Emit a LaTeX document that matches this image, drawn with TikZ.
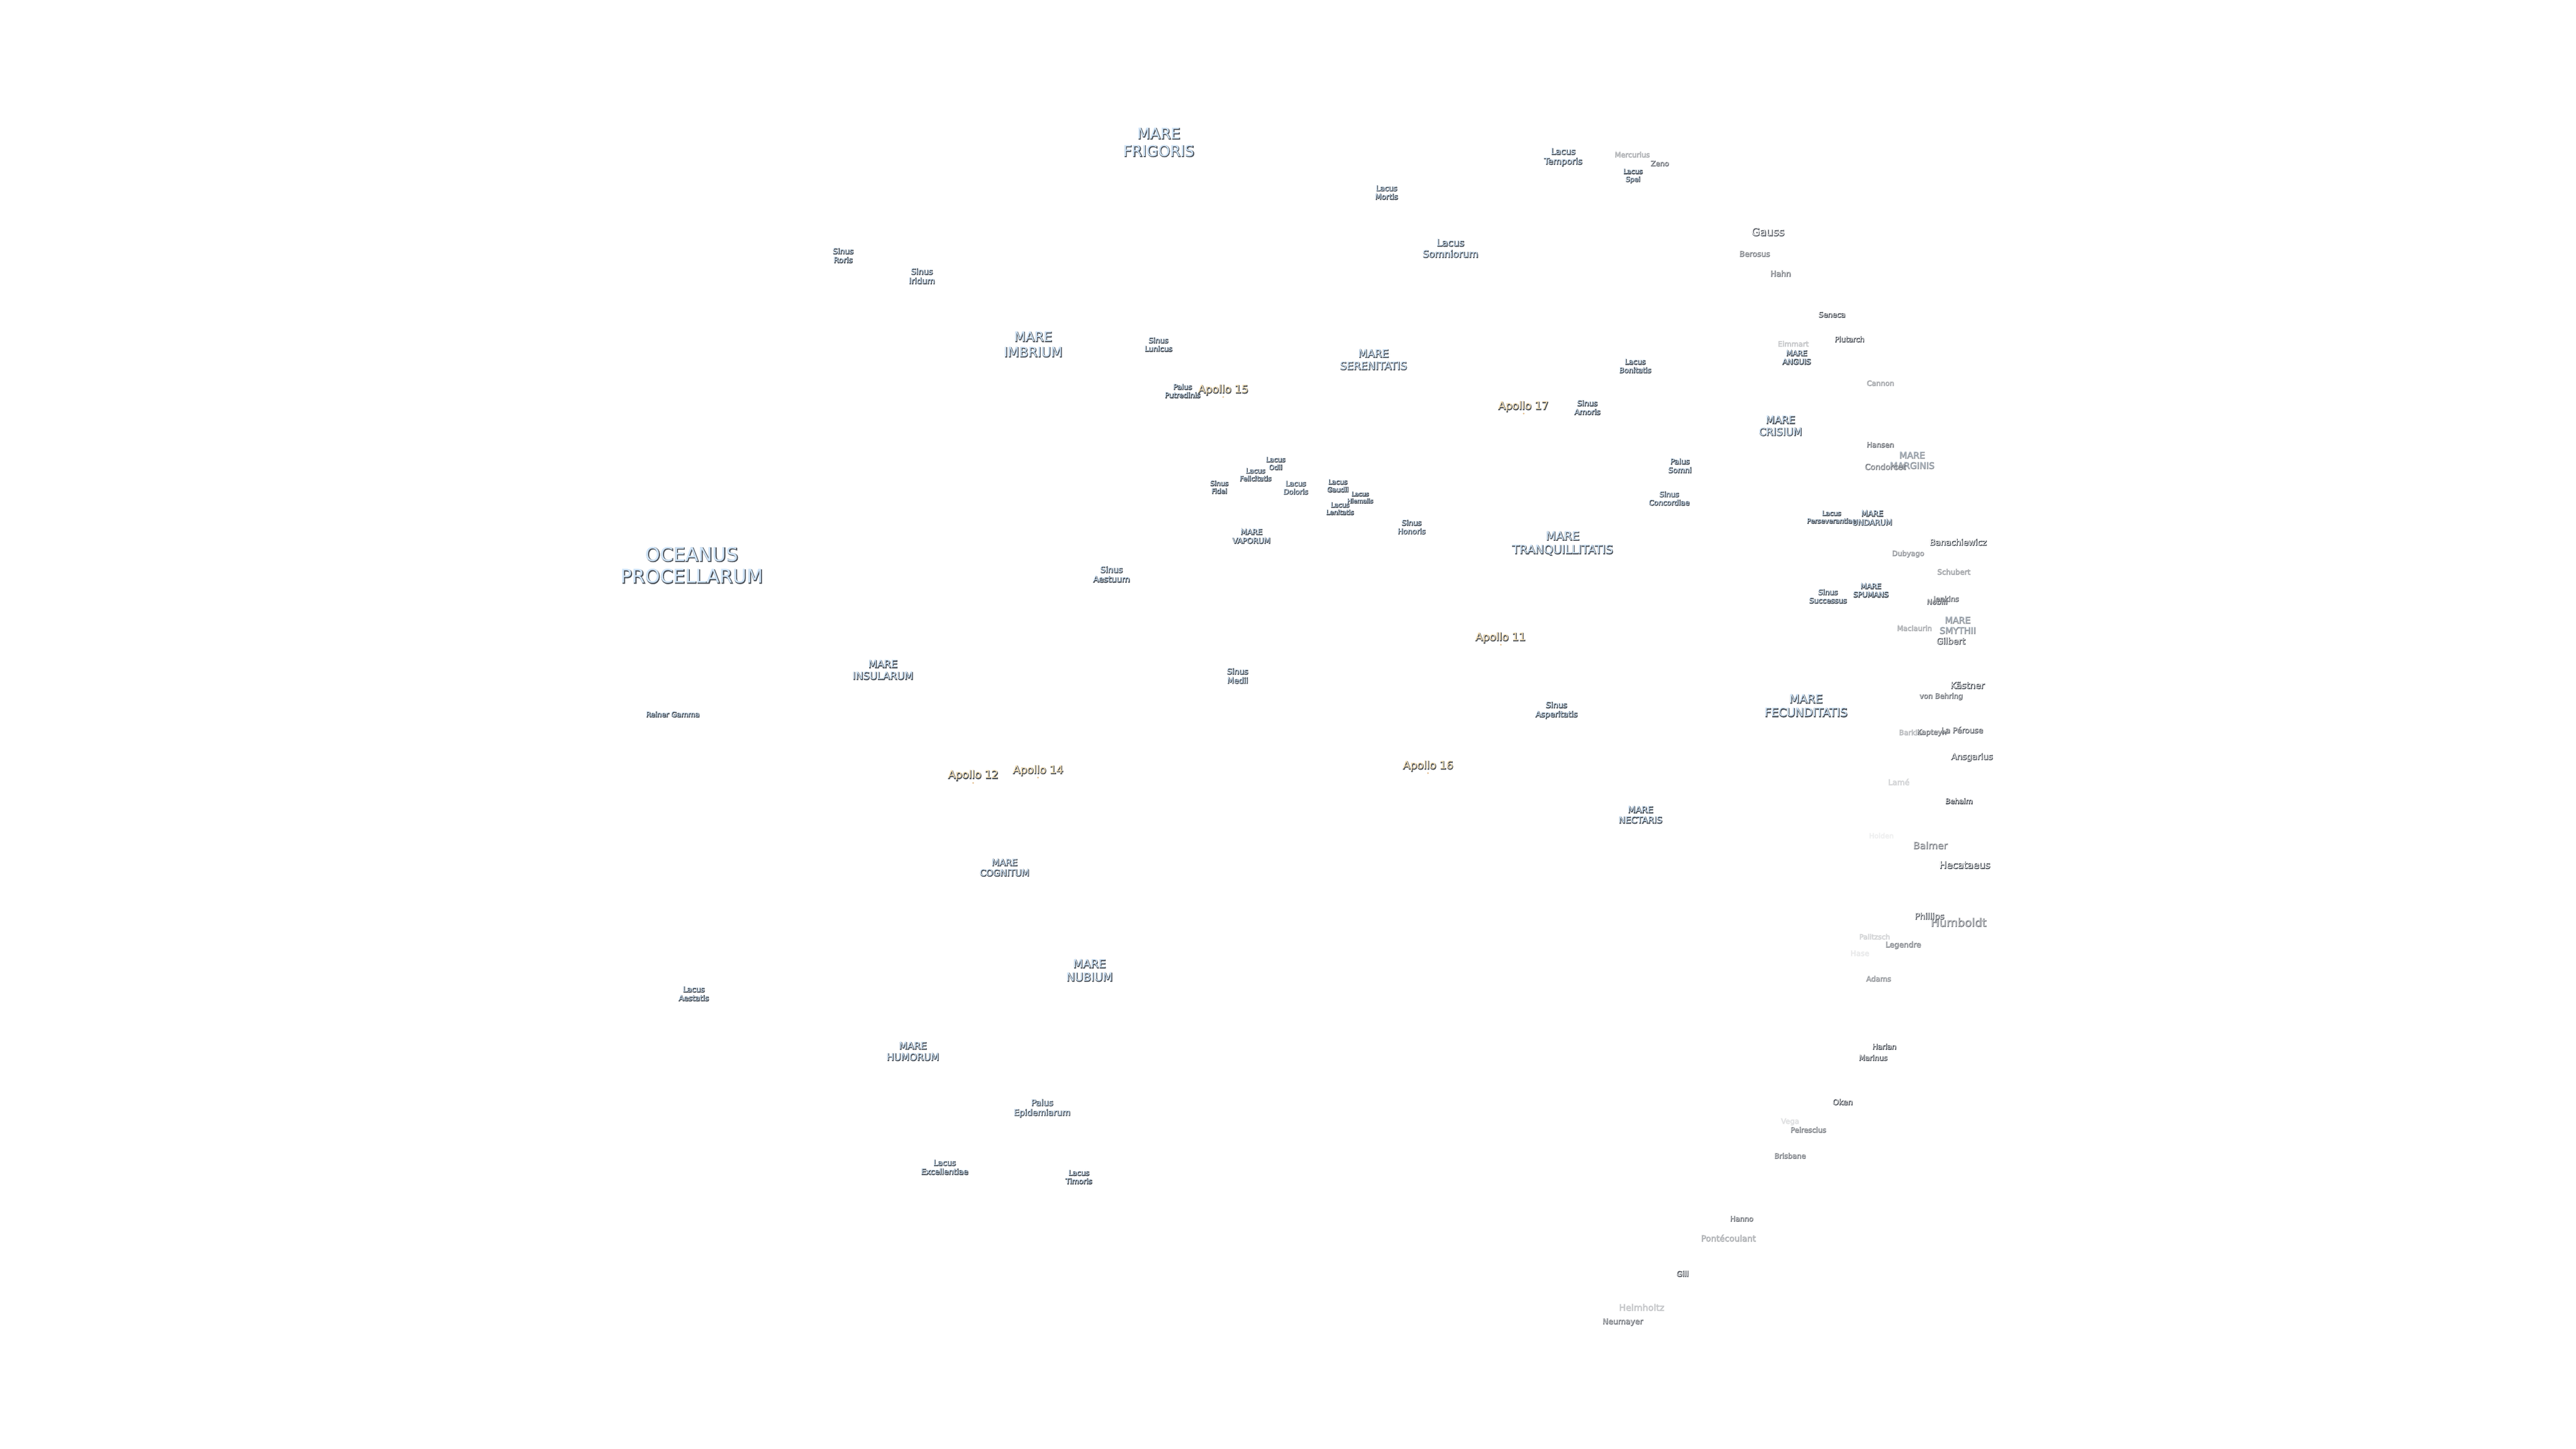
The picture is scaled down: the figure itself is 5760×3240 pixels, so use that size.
\documentclass[tikz,border=0pt]{standalone}
\usepackage{fontspec}
\setmainfont{DejaVu Sans}
\definecolor{maria}{HTML}{CFE4F8}
\definecolor{apollo}{HTML}{FAE3B8}
\definecolor{crater}{HTML}{FFFFFF}
\definecolor{shade}{HTML}{4C5159}
\tikzset{
  lbl/.style={inner sep=0pt,align=center},
  mariatext/.style={text=maria},
  apollotext/.style={text=apollo},
  cratertext/.style={text=crater},
  sitedot/.style={circle,fill=apollo!60!brown,inner sep=0pt,minimum size=1pt},
}
\newcommand\inkon{\special{pdf:code 2 Tr 0.42 w 0.30 0.32 0.35 RG}}
\newcommand\inkoff{\special{pdf:code 0 Tr}}
% name, x, y, size px, style, opacity, text
\newcommand\lab[7]{%
  \pgfmathsetmacro\fs{#4*.25}\pgfmathsetmacro\fb{#4*.25*1.16}%
  \node[lbl,opacity=#6,text=shade,font=\fontsize{\fs}{\fb}\selectfont] (#1s) at ([shift={(.8,1)}]#2,#3) {\inkon #7\inkoff};
  \node[lbl,#5,opacity=#6,font=\fontsize{\fs}{\fb}\selectfont] (#1) at (#2,#3) {#7};
}
\begin{document}
\begin{tikzpicture}[x=.25pt,y=-.25pt]
\useasboundingbox (0,0) rectangle (5760,3240);
% maria
\lab{ocean}{1547}{1264}{42.3}{mariatext}{1}{OCEANUS\\PROCELLARUM}
\lab{frig}{2591}{318}{33.5}{mariatext}{1}{MARE\\FRIGORIS}
\lab{imbr}{2310}{770}{29.6}{mariatext}{1}{MARE\\IMBRIUM}
\lab{sere}{3071}{804}{23.7}{mariatext}{1}{MARE\\SERENITATIS}
\lab{tranq}{3494}{1215}{26.2}{mariatext}{1}{MARE\\TRANQUILLITATIS}
\lab{cris}{3981}{952}{22.9}{mariatext}{1}{MARE\\CRISIUM}
\lab{fecu}{4038}{1578}{26}{mariatext}{1}{MARE\\FECUNDITATIS}
\lab{nect}{3668}{1822}{19.8}{mariatext}{1}{MARE\\NECTARIS}
\lab{vapo}{2798}{1199}{17}{mariatext}{1}{MARE\\VAPORUM}
\lab{insu}{1974}{1498}{22.7}{mariatext}{1}{MARE\\INSULARUM}
\lab{cogn}{2246}{1940}{20.1}{mariatext}{1}{MARE\\COGNITUM}
\lab{nubi}{2436}{2170}{25.5}{mariatext}{1}{MARE\\NUBIUM}
\lab{humo}{2041}{2351}{21.6}{mariatext}{1}{MARE\\HUMORUM}
\lab{angu}{4017}{799}{16.4}{mariatext}{1}{MARE\\ANGUIS}
\lab{spum}{4183}{1320}{16.1}{mariatext}{1}{MARE\\SPUMANS}
\lab{marg}{4275}{1029}{20}{mariatext}{.4}{MARE\\MARGINIS}
\lab{smyt}{4377}{1398}{20}{mariatext}{.4}{MARE\\SMYTHII}
% sinus, lacus, palus
\lab{roris}{1885}{571}{17}{mariatext}{1}{Sinus\\Roris}
\lab{iridum}{2061}{617}{18}{mariatext}{1}{Sinus\\Iridum}
\lab{lunicus}{2590}{770}{16.3}{mariatext}{1}{Sinus\\Lunicus}
\lab{putre}{2644}{874}{16}{mariatext}{1}{Palus\\Putredinis}
\lab{mortis}{3100}{430}{16.5}{mariatext}{1}{Lacus\\Mortis}
\lab{somnio}{3243}{555}{21.5}{mariatext}{1}{Lacus\\Somniorum}
\lab{tempo}{3495}{351}{19}{mariatext}{1}{Lacus\\Temporis}
\lab{spei}{3651}{393}{15}{mariatext}{1}{Lacus\\Spei}
\lab{amoris}{3549}{911}{16.7}{mariatext}{1}{Sinus\\Amoris}
\lab{bonit}{3656}{818}{16.2}{mariatext}{1}{Lacus\\Bonitatis}
\lab{somni}{3756}{1041}{16.6}{mariatext}{1}{Palus\\Somni}
\lab{conco}{3732}{1114}{16.1}{mariatext}{1}{Sinus\\Concordiae}
\lab{odii}{2852}{1036}{15}{mariatext}{1}{Lacus\\Odii}
\lab{felic}{2807}{1061}{15}{mariatext}{1}{Lacus\\Felicitatis}
\lab{fidei}{2726}{1089}{15}{mariatext}{1}{Sinus\\Fidei}
\lab{dolor}{2897}{1090}{15.8}{mariatext}{1}{Lacus\\Doloris}
\lab{gaudi}{2991}{1086}{14.9}{mariatext}{1}{Lacus\\Gaudii}
\lab{hiema}{3041}{1112}{13.4}{mariatext}{1}{Lacus\\Hiemalis}
\lab{lenit}{2996}{1137}{14.5}{mariatext}{1}{Lacus\\Lenitatis}
\lab{honor}{3156}{1178}{16.3}{mariatext}{1}{Sinus\\Honoris}
\lab{aestu}{2485}{1284}{18.5}{mariatext}{1}{Sinus\\Aestuum}
\lab{medii}{2767}{1511}{17.5}{mariatext}{1}{Sinus\\Medii}
\lab{asper}{3480}{1588}{17.6}{mariatext}{1}{Sinus\\Asperitatis}
\lab{perse}{4095}{1156}{14.7}{mariatext}{1}{Lacus\\Perseverantiae}
\lab{undar}{4186}{1158}{17.1}{mariatext}{1}{MARE\\UNDARUM}
\lab{succe}{4087}{1333}{16.2}{mariatext}{1}{Sinus\\Successus}
\lab{reiner}{1504}{1597}{16}{mariatext}{1}{Reiner Gamma}
\lab{aesta}{1551}{2222}{16.9}{mariatext}{1}{Lacus\\Aestatis}
\lab{epide}{2330}{2478}{18.9}{mariatext}{1}{Palus\\Epidemiarum}
\lab{excel}{2112}{2610}{17.3}{mariatext}{1}{Lacus\\Excellentiae}
\lab{timor}{2412}{2632}{16.2}{mariatext}{1}{Lacus\\Timoris}
% craters
\lab{mercu}{3649}{345}{16}{cratertext}{.3}{Mercurius}
\lab{zeno}{3711}{365}{16}{cratertext}{.6}{Zeno}
\lab{gauss}{3953}{518}{24}{cratertext}{.9}{Gauss}
\lab{beros}{3923}{567}{17.2}{cratertext}{.5}{Berosus}
\lab{hahn}{3981}{611}{17.4}{cratertext}{.6}{Hahn}
\lab{senec}{4096}{703}{16.3}{cratertext}{.95}{Seneca}
\lab{pluta}{4135}{758}{16.2}{cratertext}{.95}{Plutarch}
\lab{eimma}{4009}{768}{16.1}{cratertext}{.2}{Eimmart}
\lab{canno}{4204}{856}{16}{cratertext}{.35}{Cannon}
\lab{hanse}{4204}{994}{16.2}{cratertext}{.6}{Hansen}
\lab{condo}{4215}{1043}{17.8}{cratertext}{.55}{Condorcet}
\lab{banac}{4378}{1212}{18.7}{cratertext}{1}{Banachiewicz}
\lab{dubya}{4266}{1238}{16}{cratertext}{.4}{Dubyago}
\lab{schub}{4368}{1278}{16.4}{cratertext}{.35}{Schubert}
\lab{nobil}{4331}{1345}{16.4}{cratertext}{.7}{Nobili}
\lab{jenki}{4351}{1340}{16}{cratertext}{.7}{Jenkins}
\lab{macla}{4280}{1404}{16}{cratertext}{.3}{Maclaurin}
\lab{gilbe}{4362}{1433}{19}{cratertext}{.85}{Gilbert}
\lab{kastn}{4399}{1532}{19.9}{cratertext}{.9}{Kästner}
\lab{behri}{4340}{1557}{16}{cratertext}{.6}{von Behring}
\lab{barkl}{4271}{1637}{16}{cratertext}{.25}{Barkla}
\lab{kapte}{4319}{1638}{16}{cratertext}{.6}{Kapteyn}
\lab{perou}{4387}{1632}{17.2}{cratertext}{.7}{La Pérouse}
\lab{ansga}{4409}{1693}{18.9}{cratertext}{.9}{Ansgarius}
\lab{lame}{4245}{1748}{17.3}{cratertext}{.15}{Lamé}
\lab{behai}{4380}{1791}{16.1}{cratertext}{.9}{Behaim}
\lab{holde}{4206}{1868}{15.6}{cratertext}{.05}{Holden}
\lab{balme}{4316}{1890}{21.4}{cratertext}{.5}{Balmer}
\lab{hecat}{4393}{1934}{21.4}{cratertext}{1}{Hecataeus}
\lab{humbo}{4379}{2062}{25.3}{cratertext}{.6}{Humboldt}
\lab{phill}{4314}{2050}{18.8}{cratertext}{.8}{Phillips}
\lab{palit}{4191}{2094}{15.8}{cratertext}{.15}{Palitzsch}
\lab{legen}{4255}{2113}{17}{cratertext}{.5}{Legendre}
\lab{hase}{4158}{2131}{16.8}{cratertext}{.07}{Hase}
\lab{adams}{4200}{2188}{16.3}{cratertext}{.4}{Adams}
\lab{harla}{4213}{2340}{16.2}{cratertext}{.95}{Harlan}
\lab{marin}{4188}{2365}{16.1}{cratertext}{.85}{Marinus}
\lab{oken}{4120}{2464}{17.4}{cratertext}{.8}{Oken}
\lab{vega}{4002}{2508}{16.4}{cratertext}{.1}{Vega}
\lab{peire}{4043}{2526}{16}{cratertext}{.5}{Peirescius}
\lab{brisb}{4002}{2584}{16}{cratertext}{.55}{Brisbane}
\lab{hanno}{3894}{2725}{16}{cratertext}{.6}{Hanno}
\lab{ponte}{3864}{2768}{18.7}{cratertext}{.3}{Pontécoulant}
\lab{gill}{3762}{2848}{16.8}{cratertext}{.8}{Gill}
\lab{helmh}{3670}{2923}{20}{cratertext}{.2}{Helmholtz}
\lab{neuma}{3628}{2956}{17.4}{cratertext}{.55}{Neumayer}
% Apollo sites
\lab{apxi}{3355}{1426}{24}{apollotext}{1}{Apollo 11}
\lab{apxii}{2176}{1734}{24}{apollotext}{1}{Apollo 12}
\lab{apxiv}{2321}{1723}{24}{apollotext}{1}{Apollo 14}
\lab{apxv}{2735}{872}{24}{apollotext}{1}{Apollo 15}
\lab{apxvi}{3193}{1713}{24}{apollotext}{1}{Apollo 16}
\lab{apxvii}{3406}{909}{24}{apollotext}{1}{Apollo 17}
\node[sitedot] (dxi) at (3356,1442) {};
\node[sitedot] (dxii) at (2176,1751) {};
\node[sitedot] (dxiv) at (2321,1739) {};
\node[sitedot] (dxv) at (2735,888) {};
\node[sitedot] (dxvi) at (3193,1729) {};
\node[sitedot] (dxvii) at (3407,925) {};
\end{tikzpicture}
\end{document}
